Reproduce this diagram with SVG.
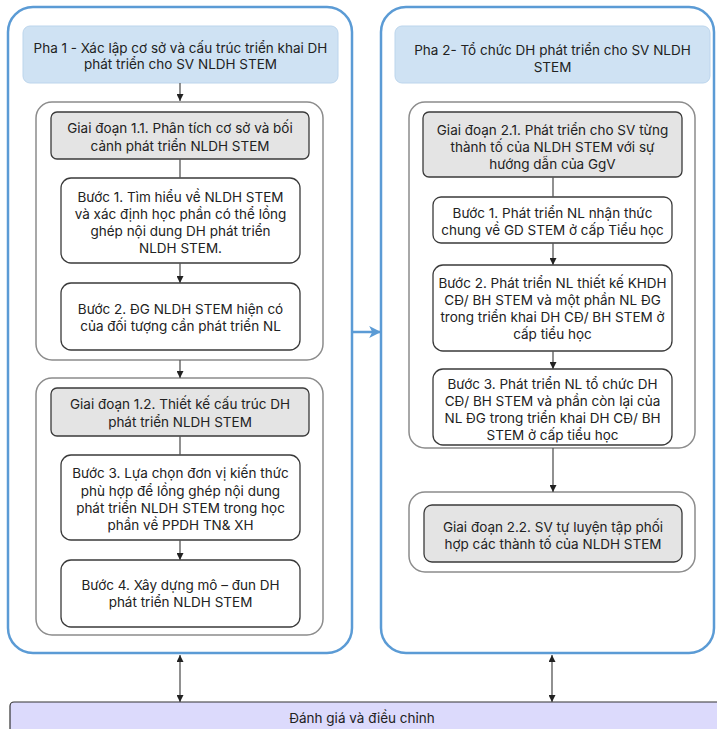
<svg xmlns="http://www.w3.org/2000/svg" width="717" height="729" viewBox="0 0 717 729">
<defs>
<style>
text{font-family:Inter,"Open Sans","Noto Sans",sans-serif;font-size:13.5px;fill:#222;text-anchor:middle}
.outer{fill:#fff;stroke:#5b9bd5;stroke-width:2.5}
.head{fill:#cfe2f3;stroke:#bcd5ec;stroke-width:1}
.grp{fill:#fff;stroke:#8c8c8c;stroke-width:1.5}
.gd{fill:#e4e4e4;stroke:#3a3a3a;stroke-width:1.3}
.step{fill:#fff;stroke:#3a3a3a;stroke-width:1.3}
.bot{fill:#dcdafc;stroke:#333;stroke-width:1.2}
.ln{stroke:#555;stroke-width:1.3;fill:none}
.bl{stroke:#5b9bd5;stroke-width:2.5;fill:none}
</style>
<marker id="ah" viewBox="0 0 10 10" refX="10" refY="5" markerWidth="7" markerHeight="7" markerUnits="userSpaceOnUse" orient="auto-start-reverse"><path d="M0,0 L10,5 L0,10 z" fill="#222"/></marker>
<marker id="ahb" viewBox="0 0 10 10" refX="9" refY="5" markerWidth="12" markerHeight="12" markerUnits="userSpaceOnUse" orient="auto"><path d="M0,0 L10,5 L0,10 L2.5,5 z" fill="#5b9bd5"/></marker>
</defs>

<g id="phase1">
<rect class="outer" x="8" y="7" width="344" height="646" rx="25"/>
</g>
<g id="phase2">
<rect class="outer" x="381" y="7" width="333" height="646" rx="25"/>
</g>

<g id="pha1-header">
<rect class="head" x="23" y="26" width="315" height="57" rx="7"/>
<text x="180.5" y="53">Pha 1 - Xác lập cơ sở và cấu trúc triển khai DH</text>
<text x="180.5" y="69">phát triển cho SV NLDH STEM</text>
</g>

<g id="group-1-1">
<rect class="grp" x="36" y="102" width="287" height="258" rx="16"/>
</g>
<g id="gd-1-1">
<rect class="gd" x="51" y="112" width="258" height="47" rx="6"/>
<text x="180" y="133">Giai đoạn 1.1. Phân tích cơ sở và bối</text>
<text x="180" y="151">cảnh phát triển NLDH STEM</text>
</g>
<g id="b1-left">
<rect class="step" x="61" y="178" width="239" height="85" rx="10"/>
<text x="180.5" y="202">Bước 1. Tìm hiểu về NLDH STEM</text>
<text x="180.5" y="219">và xác định học phần có thể lồng</text>
<text x="180.5" y="236">ghép nội dung DH phát triển</text>
<text x="180.5" y="253">NLDH STEM.</text>
</g>
<g id="b2-left">
<rect class="step" x="61" y="283" width="239" height="67" rx="10"/>
<text x="180.5" y="314">Bước 2. ĐG NLDH STEM hiện có</text>
<text x="180.5" y="331">của đối tượng cần phát triển NL</text>
</g>

<g id="group-1-2">
<rect class="grp" x="36" y="378" width="287" height="257" rx="16"/>
</g>
<g id="gd-1-2">
<rect class="gd" x="51" y="388" width="258" height="48" rx="6"/>
<text x="180" y="409">Giai đoạn 1.2. Thiết kế cấu trúc DH</text>
<text x="180" y="427">phát triển NLDH STEM</text>
</g>
<g id="b3-left">
<rect class="step" x="61" y="455" width="239" height="85" rx="10"/>
<text x="180.5" y="478">Bước 3. Lựa chọn đơn vị kiến thức</text>
<text x="180.5" y="495.5">phù hợp để lồng ghép nội dung</text>
<text x="180.5" y="513">phát triển NLDH STEM trong học</text>
<text x="180.5" y="530">phần về PPDH TN&amp; XH</text>
</g>
<g id="b4-left">
<rect class="step" x="61" y="560" width="239" height="67" rx="10"/>
<text x="180.5" y="590">Bước 4. Xây dựng mô – đun DH</text>
<text x="180.5" y="607">phát triển NLDH STEM</text>
</g>

<g id="pha2-header">
<rect class="head" x="395" y="26" width="315" height="57" rx="7"/>
<text x="552.5" y="55">Pha 2- Tổ chức DH phát triển cho SV NLDH</text>
<text x="552.5" y="71.5">STEM</text>
</g>

<g id="group-2-1">
<rect class="grp" x="409" y="102" width="286" height="346" rx="16"/>
</g>
<g id="gd-2-1">
<rect class="gd" x="423" y="112" width="259" height="65" rx="6"/>
<text x="552.5" y="135">Giai đoạn 2.1. Phát triển cho SV từng</text>
<text x="552.5" y="152">thành tố của NLDH STEM với sự</text>
<text x="552.5" y="169">hướng dẫn của GgV</text>
</g>
<g id="b1-right">
<rect class="step" x="433" y="197" width="239" height="46" rx="8"/>
<text x="552.5" y="217.5">Bước 1. Phát triển NL nhận thức</text>
<text x="552.5" y="234.5">chung về GD STEM ở cấp Tiểu học</text>
</g>
<g id="b2-right">
<rect class="step" x="433" y="265" width="239" height="86" rx="10"/>
<text x="552.5" y="288">Bước 2. Phát triển NL thiết kế KHDH</text>
<text x="552.5" y="305">CĐ/ BH STEM và một phần NL ĐG</text>
<text x="552.5" y="322">trong triển khai DH CĐ/ BH STEM ở</text>
<text x="552.5" y="339">cấp tiểu học</text>
</g>
<g id="b3-right">
<rect class="step" x="433" y="369" width="239" height="76" rx="10"/>
<text x="552.5" y="389">Bước 3. Phát triển NL tổ chức DH</text>
<text x="552.5" y="406">CĐ/ BH STEM và phần còn lại của</text>
<text x="552.5" y="423">NL ĐG trong triển khai DH CĐ/ BH</text>
<text x="552.5" y="440">STEM ở cấp tiểu học</text>
</g>

<g id="group-2-2">
<rect class="grp" x="409" y="492" width="286" height="80" rx="16"/>
</g>
<g id="gd-2-2">
<rect class="gd" x="424" y="505" width="258" height="57" rx="8"/>
<text x="553" y="531.5">Giai đoạn 2.2. SV tự luyện tập phối</text>
<text x="553" y="548.5">hợp các thành tố của NLDH STEM</text>
</g>

<g id="eval">
<rect class="bot" x="10" y="702" width="720" height="40" rx="4"/>
<text x="362" y="723">Đánh giá và điều chỉnh</text>
</g>

<g id="connectors">
<line class="ln" x1="180" y1="83" x2="180" y2="101" marker-end="url(#ah)"/>
<line class="ln" x1="180" y1="159" x2="180" y2="178"/>
<line class="ln" x1="180" y1="263" x2="180" y2="283" marker-end="url(#ah)"/>
<line class="ln" x1="180" y1="360" x2="180" y2="378" marker-end="url(#ah)"/>
<line class="ln" x1="180" y1="436" x2="180" y2="455"/>
<line class="ln" x1="180" y1="540" x2="180" y2="560" marker-end="url(#ah)"/>
<line class="ln" x1="553" y1="177" x2="553" y2="197"/>
<line class="ln" x1="553" y1="243" x2="553" y2="265" marker-end="url(#ah)"/>
<line class="ln" x1="553" y1="351" x2="553" y2="369" marker-end="url(#ah)"/>
<line class="ln" x1="553" y1="448" x2="553" y2="492" marker-end="url(#ah)"/>
<line class="ln" x1="180" y1="655" x2="180" y2="702" marker-start="url(#ah)" marker-end="url(#ah)"/>
<line class="ln" x1="552" y1="655" x2="552" y2="702" marker-start="url(#ah)" marker-end="url(#ah)"/>
<line class="bl" x1="353" y1="332" x2="380" y2="332" marker-end="url(#ahb)"/>
</g>
</svg>
